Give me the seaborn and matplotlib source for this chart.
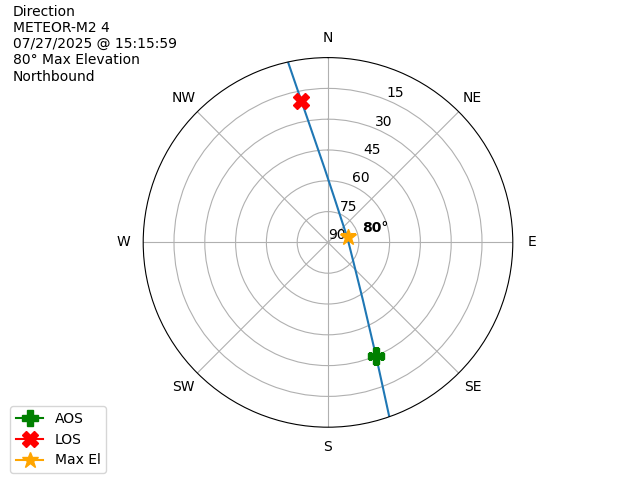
"""
Polar sky track of a satellite pass (azimuth / elevation).
"""

import numpy as np
import matplotlib
matplotlib.use("Agg")
import matplotlib.pyplot as plt
import seaborn as sns

# -----------------------------------------------------------------------------
# Data
# -----------------------------------------------------------------------------
track_az = [347.5, 349.3, 352.7, 357.4, 9.5, 31.4, 75.5, 125.3, 148.8, 157.2, 160.6]
track_el = [0.0, 19.6, 39.8, 54.0, 69.1, 77.3, 80.3, 75.1, 57.2, 29.3, 0.4]

aos_az, aos_el = 157.2, 30.0
los_az, los_el = 349.3, 20.0
max_az, max_el = 76.0, 80.0

compass_labels = ["N", "NE", "E", "SE", "S", "SW", "W", "NW"]
elev_ticks = [90, 75, 60, 45, 30, 15]

title_lines = ["Direction", "METEOR-M2 4", "07/27/2025 @ 15:15:59",
               "80° Max Elevation", "Northbound"]


def to_polar(az, el):
    return np.radians(np.asarray(az)), 90 - np.asarray(el)


fig = plt.figure(figsize=(6.4, 4.8), dpi=100)
ax = fig.add_subplot(111, projection="polar")
ax.set_theta_zero_location("N")
ax.set_theta_direction(-1)

th, r = to_polar(track_az, track_el)
sns.lineplot(x=th, y=r, sort=False, ax=ax, color="#1f77b4", linewidth=1.5)

t, rr = to_polar(aos_az, aos_el)
ax.plot(t, rr, marker="P", color="green", markersize=12, label="AOS")
t, rr = to_polar(los_az, los_el)
ax.plot(t, rr, marker="X", color="red", markersize=12, label="LOS")
t, rr = to_polar(max_az, max_el)
ax.plot(t, rr, marker="*", color="orange", markersize=12, label="Max El")
ax.annotate(f"{max_el:.0f}°", xy=(t, rr), xytext=(10, 2), textcoords="offset points",
            fontweight="bold", va="bottom", ha="left")

ax.set_xticks(np.radians(np.arange(0, 360, 45)))
ax.set_xticklabels(compass_labels)
ax.set_ylim(0, 90)
ax.set_yticks([90 - e for e in elev_ticks])
ax.set_yticklabels([str(e) for e in elev_ticks])
ax.grid(True)

fig.text(0.02, 0.99, "\n".join(title_lines), ha="left", va="top")
fig.legend(loc="lower left", bbox_to_anchor=(0.005, 0.0))

fig.savefig("out.png", dpi=100)
